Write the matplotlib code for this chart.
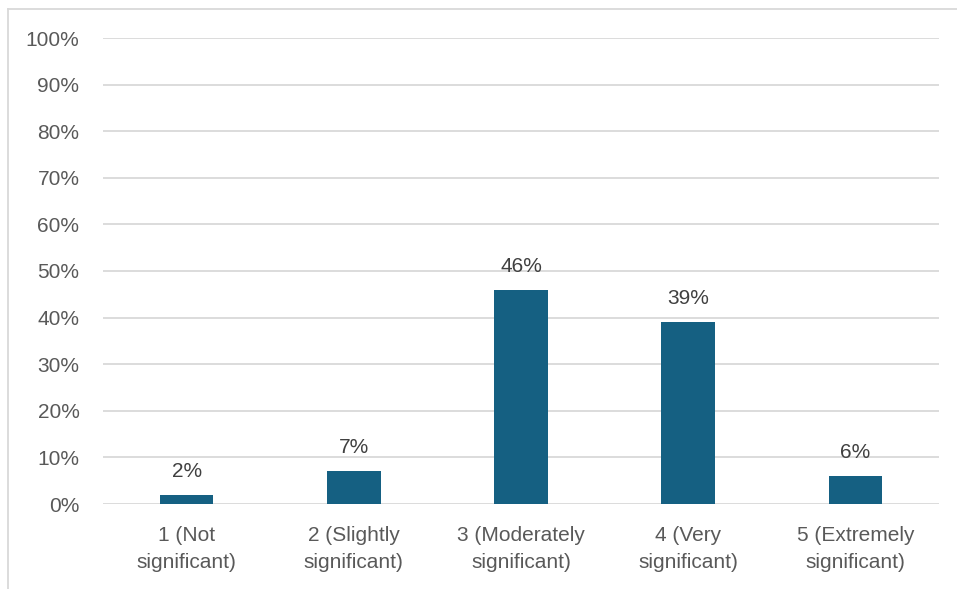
import matplotlib.pyplot as plt
from matplotlib.lines import Line2D
import numpy as np

categories = ['1 (Not\nsignificant)', '2 (Slightly\nsignificant)', '3 (Moderately\nsignificant)',
              '4 (Very\nsignificant)', '5 (Extremely\nsignificant)']
values = [2, 7, 46, 39, 6]
yticks = [0, 10, 20, 30, 40, 50, 60, 70, 80, 90, 100]

plt.rcParams['font.family'] = ['Liberation Sans', 'DejaVu Sans']

fig = plt.figure(figsize=(9.57, 5.89), dpi=100)
ax = fig.add_axes([103/957, 1-504/589, (939-103)/957, (504-38)/589])

x = np.arange(len(categories))
bars = ax.bar(x, values, width=0.32, color='#156082', zorder=3)

for b, v in zip(bars, values):
    ax.annotate(f'{v}%', (b.get_x() + b.get_width()/2, v), xytext=(0, 10),
                textcoords='offset points', ha='center', va='bottom',
                fontsize=15, color='#404040')

ax.set_xlim(-0.5, len(categories) - 0.5)
ax.set_ylim(0, 100)
ax.set_yticks(yticks)
ax.set_yticklabels([f'{t}%' for t in yticks])
ax.set_xticks(x)
ax.set_xticklabels(categories, linespacing=1.5)
ax.tick_params(axis='both', length=0, labelsize=15, labelcolor='#595959')
ax.tick_params(axis='y', pad=17)
ax.tick_params(axis='x', pad=16)
ax.grid(axis='y', color='#d9d9d9', linewidth=1.3, zorder=0)
for s in ax.spines.values():
    s.set_visible(False)

# chart frame (only top and left edges fall inside the picture)
fig.add_artist(Line2D([8/957, 8/957], [0, 1-9/589], color='#d9d9d9', linewidth=1.3))
fig.add_artist(Line2D([8/957, 1], [1-9/589, 1-9/589], color='#d9d9d9', linewidth=1.3))

fig.savefig('out.png', dpi=100)
